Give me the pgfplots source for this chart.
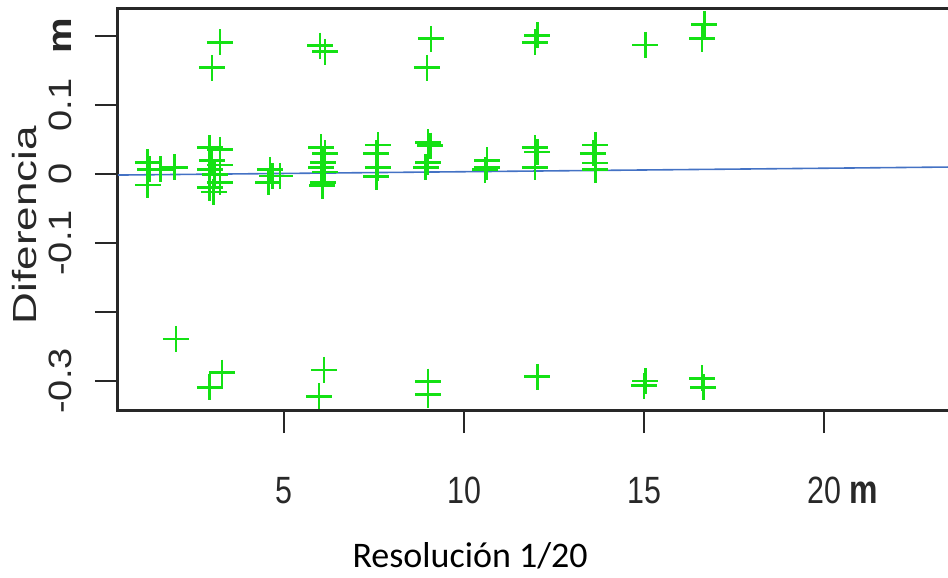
\documentclass[border=0pt]{standalone}
\usepackage{graphicx}
\usepackage{pgfplots}
\pgfplotsset{compat=1.18}
\usepackage{fontspec}
\setmainfont{Liberation Sans}
\newfontfamily\calibri{Carlito}
\definecolor{ptgreen}{RGB}{20,225,20}
\definecolor{lineblue}{RGB}{68,114,196}
\definecolor{framegray}{RGB}{40,40,40}
\newcommand{\xl}[1]{\scalebox{0.8}[1]{#1}}
\newcommand{\yl}[1]{\scalebox{1}[0.85]{#1}}
\begin{document}
\begin{tikzpicture}
\begin{axis}[
  scale only axis, width=415pt, height=201pt,
  xmin=0.39, xmax=23.44, ymin=-0.342, ymax=0.2406,
  clip=false,
  axis line style={draw=none},
  xtick pos=bottom, ytick pos=left,
  tick align=outside, major tick length=11.5pt,
  tick style={line width=1pt, framegray},
  xtick={5,10,15,20},
  xticklabels={\xl{5},\xl{10},\xl{15},\xl{20}\rlap{\xl{\fontsize{20}{20}\selectfont\ \textbf{m}}}},
  xticklabel style={font=\fontsize{19}{19}\selectfont, anchor=north, inner sep=0pt, yshift=-22pt, text=framegray},
  ytick={-0.3,-0.2,-0.1,0,0.1,0.2},
  yticklabels={\yl{-0.3},{},\yl{-0.1},\yl{0},\yl{0.1},\yl{\fontsize{20}{20}\selectfont\textbf{m}}},
  yticklabel style={font=\fontsize{19}{19}\selectfont, rotate=90, anchor=south, inner sep=0pt, yshift=11.5pt, text=framegray},
]
\coordinate (bbsw) at (rel axis cs:0,0);
\coordinate (bbne) at (rel axis cs:1,1);
\draw[line width=1.5pt, framegray, line join=miter] (rel axis cs:1,1) -- (rel axis cs:0,1) -- (rel axis cs:0,0) -- (rel axis cs:1,0);

\addplot[lineblue, line width=0.8pt] coordinates {(0.39,-0.0015) (23.44,0.0101)};

\addplot[only marks, mark=+, mark size=6.5pt, ptgreen, mark options={line width=1.4pt}] table {
x y
3.22 0.191
3.00 0.154
6.00 0.186
6.14 0.177
9.08 0.196
8.97 0.154
12.03 0.201
11.97 0.191
15.03 0.187
16.67 0.217
16.61 0.196
2.00 -0.239
3.28 -0.288
2.94 -0.309
6.11 -0.284
5.97 -0.322
9.00 -0.301
9.00 -0.320
12.03 -0.294
15.03 -0.300
15.00 -0.307
16.61 -0.296
16.64 -0.309
1.22 0.017
1.22 -0.016
1.28 0.007
1.56 0.007
1.97 0.010
2.94 0.038
3.22 0.035
3.00 0.020
3.22 0.013
2.94 0.006
3.08 -0.001
3.22 -0.012
2.94 -0.020
3.05 -0.026
4.61 0.006
4.67 -0.003
4.56 -0.012
4.89 -0.003
6.03 0.039
6.14 0.030
6.08 0.017
6.03 0.009
6.14 0.003
6.08 -0.012
6.06 -0.017
7.61 0.042
7.56 0.030
7.61 0.009
7.56 -0.004
9.00 0.046
9.06 0.041
9.00 0.017
8.94 0.010
10.64 0.020
10.64 0.010
10.58 0.006
11.97 0.038
12.03 0.032
11.97 0.010
13.64 0.042
13.58 0.030
13.64 0.016
13.64 0.006
};

\node[rotate=90, anchor=base, font=\fontsize{22}{22}\selectfont, text=framegray] at ([xshift=-40.5pt]axis cs:0.39,-0.074) {\scalebox{1}[0.76]{Diferencia}};
\node[anchor=base, font=\calibri\fontsize{18}{18}\selectfont] at ([yshift=-78.5pt]axis cs:10.17,-0.342) {Resolución 1/20};
\end{axis}
\pgfresetboundingbox
\path[use as bounding box] ([shift={(-59pt,-84pt)}]bbsw) rectangle ([shift={(0pt,4pt)}]bbne);
\end{tikzpicture}
\end{document}
